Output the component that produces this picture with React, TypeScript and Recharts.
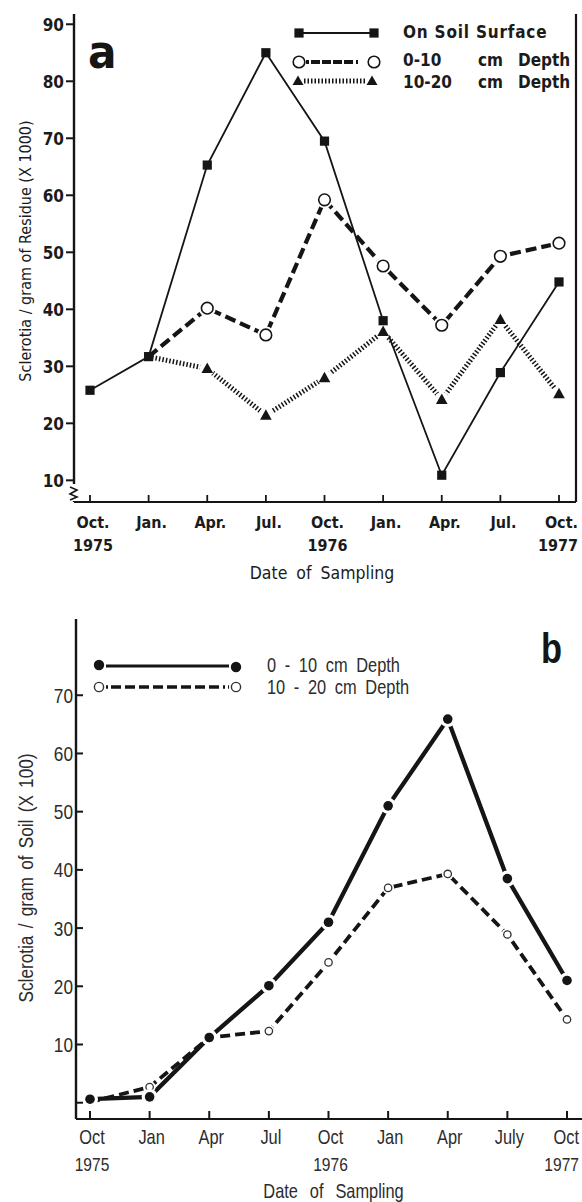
import React from 'react';
import { LineChart, Line, XAxis, YAxis, Legend } from 'recharts';

// ---------- Panel a data ----------
const monthsA = ['Oct.', 'Jan.', 'Apr.', 'Jul.', 'Oct.', 'Jan.', 'Apr.', 'Jul.', 'Oct.'];
const yearsA = ['1975', '', '', '', '1976', '', '', '', '1977'];
const soilSurface = [25.8, 31.7, 65.3, 85.0, 69.5, 38.0, 10.9, 28.9, 44.8];
const residue0to10 = [null, 31.7, 40.2, 35.5, 59.2, 47.6, 37.2, 49.3, 51.6];
const residue10to20 = [null, 31.7, 29.6, 21.4, 28.0, 36.1, 24.2, 38.2, 25.2];
const ticksA = [10, 20, 30, 40, 50, 60, 70, 80, 90];
const rightTicksA = [20, 30, 40, 50, 60, 70, 80, 90];
const BREAK_A = 7.6;

// ---------- Panel b data ----------
const monthsB = ['Oct', 'Jan', 'Apr', 'Jul', 'Oct', 'Jan', 'Apr', 'July', 'Oct'];
const yearsB = ['1975', '', '', '', '1976', '', '', '', '1977'];
const soil0to10 = [0.6, 1.0, 11.2, 20.1, 31.0, 51.0, 65.9, 38.5, 21.0];
const soil10to20 = [0.1, 2.7, 11.2, 12.3, 24.1, 36.9, 39.3, 28.9, 14.3];
const ticksB = [0, 10, 20, 30, 40, 50, 60, 70];

const dataA = monthsA.map((m, i) => ({
  idx: i,
  surface: soilSurface[i],
  d010: residue0to10[i],
  d1020: residue10to20[i],
}));
const dataB = monthsB.map((m, i) => ({
  idx: i,
  s010: soil0to10[i],
  s1020: soil10to20[i],
}));

const INK = '#151515';
const TXT_A = '#1b1b1b';
const TXT_B = '#2c2c2c';
const FONT_A = "'DejaVu Sans Condensed', 'DejaVu Sans', sans-serif";
const FONT_B = "'Liberation Sans', Arial, sans-serif";
const NARROW = 0.82;

// condensed text helper (horizontal squeeze of a regular sans)
const NText = ({ x, y, rotate, anchor = 'start', children, ...rest }: any) => (
  <text
    transform={`translate(${x} ${y})${rotate ? ` rotate(${rotate})` : ''} scale(${NARROW} 1)`}
    x={0}
    y={0}
    textAnchor={anchor}
    fontFamily={FONT_B}
    fill={TXT_B}
    {...rest}
  >
    {children}
  </text>
);

// ---------- markers ----------
const Square = ({ cx, cy }: any) => (
  <rect x={cx - 4.6} y={cy - 4.6} width={9.2} height={9.2} fill={INK} />
);
const OpenCircleA = ({ cx, cy }: any) => (
  <g>
    <circle cx={cx} cy={cy} r={8.5} fill="#fff" />
    <circle cx={cx} cy={cy} r={5.8} fill="#fff" stroke={INK} strokeWidth={1.6} />
  </g>
);
const TriangleA = ({ cx, cy }: any) => (
  <g>
    <circle cx={cx} cy={cy} r={7.5} fill="#fff" />
    <path d={`M${cx},${cy - 6} L${cx + 5.8},${cy + 4.5} L${cx - 5.8},${cy + 4.5} Z`} fill={INK} />
  </g>
);
const FilledCircleB = ({ cx, cy }: any) => (
  <g>
    <circle cx={cx} cy={cy} r={8} fill="#fff" />
    <circle cx={cx} cy={cy} r={4.8} fill={INK} />
  </g>
);
const OpenCircleB = ({ cx, cy }: any) => (
  <g>
    <circle cx={cx} cy={cy} r={6} fill="#fff" />
    <circle cx={cx} cy={cy} r={3.7} fill="#fff" stroke="#333" strokeWidth={1.3} />
  </g>
);

const makeDot = (Comp: any, skip: number[] = []) => (p: any) => {
  const { cx, cy, index, value } = p;
  if (cx == null || cy == null || value == null || skip.includes(index)) {
    return <g key={`n${index}`} />;
  }
  return <Comp key={`d${index}`} cx={cx} cy={cy} />;
};

// ---------- ticks panel a ----------
const XTickA = ({ x, y, payload }: any) => {
  const i = payload.value;
  const last = i === monthsA.length - 1;
  const tx = last ? x + 19 : x + 3;
  const anchor = last ? 'end' : 'middle';
  return (
    <g>
      <line x1={x} y1={y} x2={x} y2={y - 7} stroke={INK} strokeWidth={1.8} />
      <text x={tx} y={y + 26} textAnchor={anchor} fontFamily={FONT_A} fontWeight="bold" fontSize={16} fill={TXT_A}>
        {monthsA[i]}
      </text>
      {yearsA[i] ? (
        <text x={tx} y={y + 49} textAnchor={anchor} fontFamily={FONT_A} fontWeight="bold" fontSize={16} fill={TXT_A}>
          {yearsA[i]}
        </text>
      ) : null}
    </g>
  );
};
const YTickA = ({ x, y, payload }: any) => {
  const v = payload.value;
  if (v === BREAK_A) {
    return (
      <g>
        <rect x={x - 3} y={y - 10} width={8} height={17} fill="#fff" />
        <path
          d={`M${x - 4},${y - 7} L${x + 3},${y - 4} L${x - 4},${y} L${x + 3},${y + 3} L${x - 4},${y + 6}`}
          fill="none"
          stroke={INK}
          strokeWidth={1.6}
        />
      </g>
    );
  }
  return (
    <g>
      <line x1={x - 8} y1={y} x2={x} y2={y} stroke={INK} strokeWidth={2} />
      <text x={x - 10} y={y + 6.5} textAnchor="end" fontFamily={FONT_A} fontWeight="bold" fontSize={17} fill={TXT_A}>
        {v}
      </text>
    </g>
  );
};
const YTickRightA = ({ x, y }: any) => (
  <line x1={x - 7} y1={y} x2={x} y2={y} stroke={INK} strokeWidth={2} />
);

// ---------- ticks panel b ----------
const XTickB = ({ x, y, payload }: any) => {
  const i = payload.value;
  const last = i === monthsB.length - 1;
  const tx = last ? x + 12 : x + 2;
  const anchor = last ? 'end' : 'middle';
  return (
    <g>
      <line x1={x} y1={y} x2={x} y2={y - 8} stroke={INK} strokeWidth={2} />
      <NText x={tx} y={y + 25} anchor={anchor} fontSize={20}>
        {monthsB[i]}
      </NText>
      {yearsB[i] ? (
        <NText x={tx} y={y + 52} anchor={anchor} fontSize={19}>
          {yearsB[i]}
        </NText>
      ) : null}
    </g>
  );
};
const YTickB = ({ x, y, payload }: any) => {
  const v = payload.value;
  return (
    <g>
      <line x1={x} y1={y} x2={x + 7} y2={y} stroke={INK} strokeWidth={2} />
      {v !== 0 ? (
        <NText x={x - 3} y={y + 7.5} anchor="end" fontSize={21}>
          {v}
        </NText>
      ) : null}
    </g>
  );
};
const YTickRightB = ({ x, y }: any) => (
  <line x1={x - 6} y1={y} x2={x} y2={y} stroke={INK} strokeWidth={2} />
);

// ---------- axis titles ----------
const yTitleA = (p: any) => {
  const vb = p.viewBox || { x: 0, y: 14, width: 74, height: 488 };
  const cx = vb.x + 25;
  const cy = vb.y + vb.height / 2 - 7;
  return (
    <text
      x={cx}
      y={cy}
      transform={`rotate(-90 ${cx} ${cy})`}
      textAnchor="middle"
      dominantBaseline="central"
      fontFamily={FONT_A}
      fontSize={16}
      fill={TXT_A}
    >
      Sclerotia / gram of Residue (X 1000)
    </text>
  );
};
const xTitleA = (p: any) => {
  const vb = p.viewBox || { x: 74, y: 502, width: 502, height: 98 };
  return (
    <text x={vb.x + vb.width / 2 - 3} y={vb.y + 77} textAnchor="middle" fontFamily={FONT_A} fontSize={17.5} fill={TXT_A} wordSpacing={4}>
      Date of Sampling
    </text>
  );
};
const yTitleB = (p: any) => {
  const vb = p.viewBox || { x: 0, y: 19, width: 76, height: 500 };
  const cx = vb.x + 33;
  const cy = vb.y + vb.height / 2 + 9;
  return (
    <NText x={cx} y={cy} rotate={-90} anchor="middle" fontSize={21} wordSpacing={3}>
      Sclerotia / gram of Soil (X 100)
    </NText>
  );
};
const xTitleB = (p: any) => {
  const vb = p.viewBox || { x: 76, y: 519, width: 507, height: 83 };
  return (
    <NText x={vb.x + vb.width / 2 + 4} y={vb.y + 79} anchor="middle" fontSize={20} wordSpacing={9}>
      Date of Sampling
    </NText>
  );
};

// ---------- legends ----------
const LegendA = () => (
  <svg width={582} height={100} style={{ display: 'block', overflow: 'visible' }}>
    <text x={88} y={68} fontFamily={FONT_A} fontWeight="bold" fontSize={47} fill={INK}>
      a
    </text>
    {/* row 1 */}
    <line x1={303} y1={33} x2={370} y2={33} stroke={INK} strokeWidth={1.8} />
    <Square cx={299} cy={33} />
    <Square cx={374} cy={33} />
    {/* row 2 */}
    <line x1={306} y1={62} x2={367} y2={62} stroke={INK} strokeWidth={4} strokeDasharray="3 2 9 2 9 2 9 2 9" />
    <circle cx={299} cy={62} r={5.8} fill="#fff" stroke={INK} strokeWidth={1.6} />
    <circle cx={374} cy={62} r={5.8} fill="#fff" stroke={INK} strokeWidth={1.6} />
    {/* row 3 */}
    <line x1={304} y1={81} x2={366} y2={81} stroke={INK} strokeWidth={5} strokeDasharray="1.5 2" />
    <path d="M298,75.5 L303.5,85 L292.5,85 Z" fill={INK} />
    <path d="M372,75.5 L377.5,85 L366.5,85 Z" fill={INK} />
    <g fontFamily={FONT_A} fontWeight="bold" fontSize={17} fill={TXT_A}>
      <text x={403} y={38} letterSpacing={0.8}>On Soil Surface</text>
      <text x={403} y={66}>0-10</text>
      <text x={478} y={66}>cm</text>
      <text x={518} y={66}>Depth</text>
      <text x={403} y={88}>10-20</text>
      <text x={478} y={88}>cm</text>
      <text x={518} y={88}>Depth</text>
    </g>
  </svg>
);

const LegendB = () => (
  <svg width={586} height={100} style={{ display: 'block', overflow: 'visible' }}>
    <NText x={541} y={63} fontWeight="bold" fontSize={42} fill={INK}>
      b
    </NText>
    <line x1={106} y1={66} x2={229} y2={66} stroke={INK} strokeWidth={3.2} />
    <circle cx={99} cy={65} r={5.2} fill={INK} />
    <circle cx={236} cy={67} r={5.2} fill={INK} />
    <line x1={106} y1={87} x2={229} y2={87} stroke={INK} strokeWidth={3.4} strokeDasharray="2 3 10 4 10 4 10 4 10 4 10 4 10 4 10 4 10 4" />
    <circle cx={99} cy={87} r={4.6} fill="#fff" stroke="#333" strokeWidth={1.4} />
    <circle cx={236} cy={87} r={4.6} fill="#fff" stroke="#333" strokeWidth={1.4} />
    <NText x={267} y={72} fontSize={20} wordSpacing={5}>0 - 10 cm Depth</NText>
    <NText x={267} y={94} fontSize={20} wordSpacing={5}>10 - 20 cm Depth</NText>
  </svg>
);

export default function App() {
  return (
    <div
      style={{
        position: 'absolute',
        left: 0,
        top: 0,
        width: 582,
        height: 1202,
        overflow: 'hidden',
        background: '#fff',
      }}
    >
      <div style={{ position: 'absolute', left: 0, top: 0 }}>
        <LineChart width={582} height={600} data={dataA} margin={{ top: 14, right: 0, bottom: 0, left: 0 }}>
          <XAxis
            dataKey="idx"
            type="category"
            interval={0}
            height={98}
            padding={{ left: 16, right: 17 }}
            tickSize={0}
            tickMargin={0}
            tickLine={false}
            axisLine={{ stroke: INK, strokeWidth: 2.2 }}
            tick={<XTickA />}
            label={xTitleA}
          />
          <XAxis xAxisId="top" dataKey="idx" orientation="top" height={0} tick={false} tickLine={false} axisLine={{ stroke: INK, strokeWidth: 2 }} padding={{ left: 16, right: 17 }} />
          <YAxis
            yAxisId="left"
            type="number"
            domain={[6.2, 91.8]}
            ticks={[BREAK_A, ...ticksA]}
            interval={0}
            width={74}
            tickSize={0}
            tickMargin={0}
            tickLine={false}
            axisLine={{ stroke: INK, strokeWidth: 2.4 }}
            tick={<YTickA />}
            label={yTitleA}
          />
          <YAxis
            yAxisId="right"
            orientation="right"
            type="number"
            domain={[6.2, 91.8]}
            ticks={rightTicksA}
            interval={0}
            width={6}
            tickSize={0}
            tickMargin={0}
            tickLine={false}
            axisLine={{ stroke: INK, strokeWidth: 2.2 }}
            tick={<YTickRightA />}
          />
          <Legend
            layout="vertical"
            align="center"
            verticalAlign="middle"
            content={() => <LegendA />}
            wrapperStyle={{ position: 'absolute', left: 0, top: 0, width: 582, height: 100 }}
          />
          <Line
            yAxisId="left"
            type="linear"
            dataKey="d1020"
            stroke={INK}
            strokeWidth={5}
            strokeDasharray="1.5 2"
            dot={makeDot(TriangleA, [1])}
            activeDot={false}
            isAnimationActive={false}
            legendType="none"
          />
          <Line
            yAxisId="left"
            type="linear"
            dataKey="d010"
            stroke={INK}
            strokeWidth={4.2}
            strokeDasharray="11 5"
            dot={makeDot(OpenCircleA, [1])}
            activeDot={false}
            isAnimationActive={false}
            legendType="none"
          />
          <Line
            yAxisId="left"
            type="linear"
            dataKey="surface"
            stroke={INK}
            strokeWidth={1.8}
            dot={makeDot(Square)}
            activeDot={false}
            isAnimationActive={false}
            legendType="none"
          />
        </LineChart>
      </div>
      <div style={{ position: 'absolute', left: 0, top: 600 }}>
        <LineChart width={586} height={602} data={dataB} margin={{ top: 19, right: 0, bottom: 0, left: 0 }}>
          <XAxis
            dataKey="idx"
            type="category"
            interval={0}
            height={83}
            padding={{ left: 14, right: 16 }}
            tickSize={0}
            tickMargin={0}
            tickLine={false}
            axisLine={{ stroke: INK, strokeWidth: 2.2 }}
            tick={<XTickB />}
            label={xTitleB}
          />
          <XAxis xAxisId="top" dataKey="idx" orientation="top" height={0} tick={false} tickLine={false} axisLine={{ stroke: INK, strokeWidth: 2 }} padding={{ left: 14, right: 16 }} />
          <YAxis
            yAxisId="left"
            type="number"
            domain={[-2.8, 83.1]}
            ticks={ticksB}
            interval={0}
            width={76}
            tickSize={0}
            tickMargin={0}
            tickLine={false}
            axisLine={{ stroke: INK, strokeWidth: 2.4 }}
            tick={<YTickB />}
            label={yTitleB}
          />
          <YAxis
            yAxisId="right"
            orientation="right"
            type="number"
            domain={[-2.8, 83.1]}
            ticks={ticksB}
            interval={0}
            width={3}
            tickSize={0}
            tickMargin={0}
            tickLine={false}
            axisLine={false}
            tick={<YTickRightB />}
          />
          <Legend
            layout="vertical"
            align="center"
            verticalAlign="middle"
            content={() => <LegendB />}
            wrapperStyle={{ position: 'absolute', left: 0, top: 0, width: 586, height: 100 }}
          />
          <Line
            yAxisId="left"
            type="linear"
            dataKey="s1020"
            stroke={INK}
            strokeWidth={3.8}
            strokeDasharray="10 5"
            dot={makeDot(OpenCircleB, [2])}
            activeDot={false}
            isAnimationActive={false}
            legendType="none"
          />
          <Line
            yAxisId="left"
            type="linear"
            dataKey="s010"
            stroke={INK}
            strokeWidth={4.3}
            dot={makeDot(FilledCircleB)}
            activeDot={false}
            isAnimationActive={false}
            legendType="none"
          />
        </LineChart>
      </div>
    </div>
  );
}
